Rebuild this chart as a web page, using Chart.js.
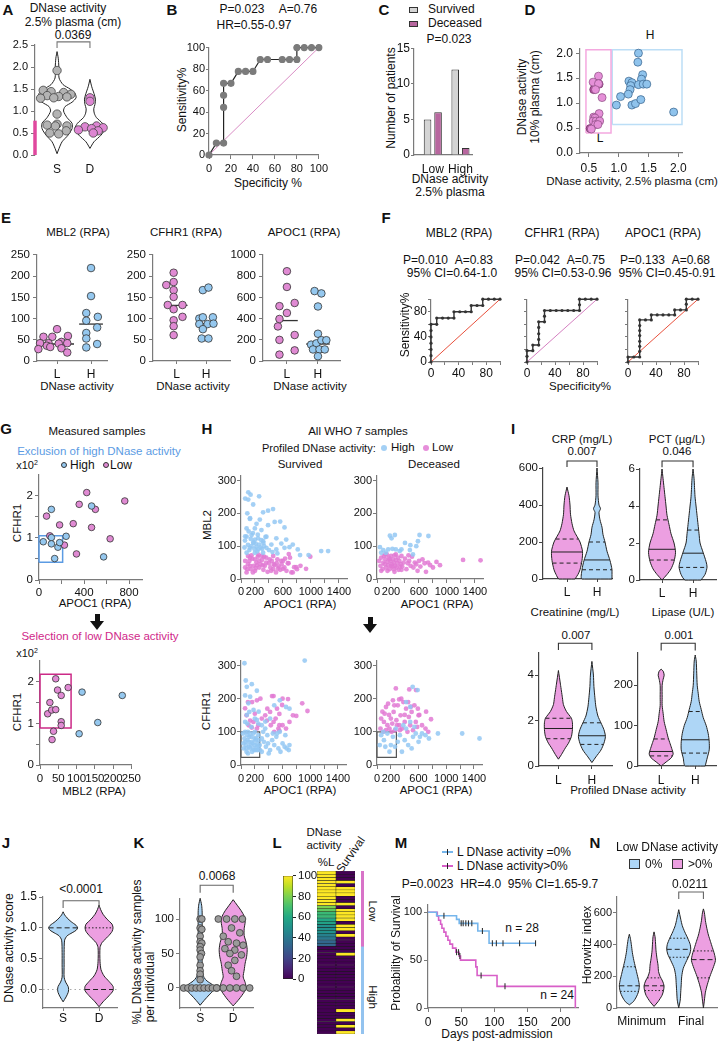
<!DOCTYPE html>
<html><head><meta charset="utf-8">
<script src="https://cdn.jsdelivr.net/npm/chart.js@4.4.1/dist/chart.umd.min.js"></script>
<style>
html,body{margin:0;padding:0;background:#fff}
body{position:relative;width:718px;height:1041px;overflow:hidden;font-family:"Liberation Sans",Arial,Helvetica,sans-serif;color:#111}
canvas{position:absolute}
.t{position:absolute;white-space:nowrap;line-height:1}
.bx{position:absolute;box-sizing:border-box}
</style></head><body>
<script>
// ================= DATA =================
// A: DNase activity 2.5% plasma (cm)
const aGroups = ['S','D'];
const aS = [1.92,1.47,1.44,1.42,1.38,1.35,1.33,1.32,1.30,1.29,0.93,0.70,0.68,0.66,0.66,0.55,0.50,0.48];
const aSoff = [0,-0.42,-0.18,0.2,0.42,-0.3,0.05,0.3,-0.1,-0.5,0,0,-0.3,0.3,-0.05,0.28,-0.22,0.05];
const aD = [1.30,1.22,0.66,0.64,0.62,0.60,0.57,0.55,0.50];
const aDoff = [0,0,0.2,-0.15,0.4,0.05,-0.35,0.25,0.1];
const aThreshold = 0.78;
const aSviolin = [[0.03,0],[0.15,2],[0.3,5],[0.45,11],[0.6,15],[0.72,15],[0.85,10],[1.0,6.5],[1.1,8],[1.2,15],[1.3,19],[1.4,18],[1.5,13],[1.6,6],[1.75,2],[2.0,1.8],[2.2,1.2],[2.35,0]];
const aDviolin = [[0.15,0],[0.3,4],[0.45,11],[0.6,15],[0.72,12.5],[0.85,6.5],[0.95,4.3],[1.05,3.8],[1.15,5],[1.27,5.5],[1.4,4],[1.55,1.8],[1.72,0]];
// B: ROC
const bSpec = [0,6.7,13.3,13.3,13.3,13.3,20,26.7,33.3,40,46.7,53.3,66.7,73.3,80,80,86.7,93.3,100];
const bSens = [0,11.1,11.1,44.4,55.6,66.7,66.7,77.8,77.8,77.8,88.9,88.9,88.9,88.9,88.9,100,100,100,100];
// C: number of patients
const cGroups = ['Low','High'];
const cSurvived = [5,12];
const cDeceased = [6,1];
// D: 10% vs 2.5% plasma
const dLow = [[0.66,1.54],[0.57,1.42],[0.66,1.39],[0.61,1.27],[0.72,1.11],[0.67,0.79],[0.58,0.72],[0.60,0.70],[0.57,0.64],[0.62,0.64],[0.68,0.64],[0.61,0.57],[0.65,0.57],[0.54,0.48]];
const dLowDark = [[0.67,1.38],[0.58,1.27],[0.52,0.49]];
const dHigh = [[1.33,2.0],[1.32,1.82],[1.40,1.57],[1.17,1.44],[1.22,1.41],[1.38,1.48],[1.20,1.35],[1.33,1.37],[1.41,1.38],[1.47,1.38],[1.19,1.27],[1.16,1.18],[1.03,1.13],[0.96,0.96],[1.22,0.96],[1.28,0.99],[1.37,1.07],[1.92,0.82]];
// E: proteins by DNase group
const eGroups = ['L','H'];
const eMblL = [75,57,57,59,45,42,42,41,42,36,30,28,33,20];
const eMblLoff = [0,-0.4,-0.14,0.32,0.13,-0.5,-0.25,0.05,0.3,-0.3,0.13,-0.55,-0.2,0.3];
const eMblH = [219,153,113,104,95,66,79,53,40,32];
const eMblHoff = [0,0,-0.14,0.2,-0.14,-0.14,0.18,-0.14,0.18,-0.14];
const eMblMed = [40,87];
const eCfhL = [208,179,186,167,151,132,132,122,104,96,82,61];
const eCfhLoff = [-0.1,-0.35,-0.1,-0.1,-0.1,-0.3,0.2,-0.1,0.2,-0.1,-0.1,-0.1];
const eCfhH = [167,173,100,103,103,87,87,88,75,53,53];
const eCfhHoff = [-0.11,0.08,-0.23,-0.11,0.23,-0.23,0.05,0.25,-0.11,-0.15,0.08];
const eCfhMed = [131,88];
const eApoL = [846,698,517,453,547,396,326,245,199,100,60];
const eApoLoff = [0,0,-0.24,0,0.25,-0.24,-0.29,0.25,-0.24,0.25,-0.24];
const eApoH = [659,637,514,257,154,166,196,196,109,109,109,45];
const eApoHoff = [-0.11,0.11,0,0,-0.22,-0.05,0.11,0.27,-0.16,0.05,0.22,0];
const eApoMed = [381,160];
// F: ROC curves
const f1Spec = [0,0,0,0,0,0,0,8.3,8.3,16.7,25,33.3,33.3,41.7,50,58.3,58.3,66.7,75,75,83.3,91.7,100];
const f1Sens = [0,10,20,30,40,50,60,60,70,70,70,70,80,80,80,80,90,90,90,100,100,100,100];
const f2Spec = [0,0,0,8.3,8.3,16.7,16.7,16.7,16.7,16.7,25,25,25,33.3,41.7,50,58.3,66.7,75,75,75,83.3,91.7,100];
const f2Sens = [0,9,18,18,27,27,36,45,55,64,64,73,82,82,82,82,82,82,82,91,100,100,100,100];
const f3Spec = [0,0,8.3,16.7,16.7,16.7,16.7,16.7,16.7,16.7,16.7,25,33.3,33.3,41.7,50,58.3,66.7,66.7,75,83.3,83.3,83.3,91.7,100];
const f3Sens = [0,8,8,8,17,25,33,42,50,58,67,67,67,75,75,75,75,75,83,83,83,92,100,100,100];
// G: measured samples
const gApocHigh = [[110,1.68],[467,1.76],[38,0.91],[110,1.01],[110,0.86],[168,0.78],[183,0.89],[241,1.04],[139,0.51],[574,0.55]];
const gApocLow = [[424,2.08],[357,1.80],[762,1.88],[67,1.52],[183,1.31],[304,1.34],[96,1.05],[226,0.83],[333,0.62],[501,1.68],[467,1.25],[632,0.98]];
const gMblHigh = [[115,1.75],[225,1.67],[158,1.02],[107,0.75]];
const gMblLow = [[43,2.07],[48,1.80],[58,1.67],[77,1.86],[27,1.50],[21,1.23],[32,1.32],[43,1.33],[58,1.04],[58,0.95],[37,0.81],[33,0.61]];
// H: all WHO 7 samples
const hSurvMblHigh = [[104,264],[137,257],[259,252],[104,242],[174,227],[316,203],[387,208],[458,213],[127,183],[269,181],[222,168],[387,164],[481,174],[80,154],[198,154],[292,149],[151,134],[80,129],[245,124],[363,129],[505,124],[646,120],[57,117],[174,110],[316,115],[434,105],[576,108],[740,105],[127,95],[245,90],[363,95],[505,90],[622,95],[80,80],[198,80],[316,80],[811,90],[1146,85],[1245,85],[966,73],[844,73],[693,97],[560,175],[622,157],[150,100],[180,112],[220,98],[260,105],[300,92],[120,88],[200,120],[240,135],[170,140],[290,118],[110,145],[330,100],[400,88],[450,82],[520,78],[350,128],[60,130],[90,200],[130,185],[60,245],[210,108],[280,96],[140,122],[190,92],[230,84],[100,104],[50,96],[320,110]];
const hSurvMblLow = [[60,35],[80,20],[100,45],[120,55],[140,30],[160,62],[180,40],[200,25],[220,50],[240,68],[260,35],[280,45],[300,58],[320,28],[340,40],[360,65],[380,22],[400,48],[420,35],[440,55],[460,30],[480,42],[500,20],[520,60],[540,38],[560,28],[580,45],[600,55],[620,35],[650,25],[680,48],[720,20],[760,36],[800,30],[850,40],[930,31],[990,68],[575,55],[683,76],[669,48],[598,31],[740,20],[787,36],[100,70],[150,72],[200,60],[250,74],[300,70],[60,55],[90,30],[130,40],[170,20],[210,33],[260,55],[310,42],[360,50],[410,60],[460,70],[510,48],[130,65],[230,42],[330,68],[430,25],[530,32],[630,62],[700,65],[470,45]];
const hDecMblHigh = [[42,97],[127,80],[184,132],[255,134],[208,124],[269,90],[349,90],[561,100],[585,115],[608,134],[735,131],[477,103],[160,90],[325,85],[514,75],[90,88],[220,92],[400,110],[470,88],[60,80]];
const hDecMblLow = [[30,55],[50,40],[60,65],[80,30],[90,50],[100,70],[110,45],[120,60],[130,35],[140,75],[150,52],[160,42],[170,65],[180,30],[190,55],[200,70],[210,45],[220,38],[230,60],[240,50],[250,72],[260,40],[270,58],[280,35],[290,48],[300,65],[310,28],[320,55],[340,45],[350,70],[360,38],[380,50],[400,62],[420,30],[440,48],[460,55],[480,40],[500,68],[520,35],[540,50],[560,45],[580,25],[600,55],[620,38],[650,60],[680,48],[700,22],[730,50],[760,42],[800,35],[850,52],[900,42],[1230,58],[1480,57],[150,25],[250,22],[350,28],[450,72],[120,75],[200,40],[270,75],[330,38],[60,25],[180,60],[240,30]];
const hSurvCfhHigh = [[50,307],[69,255],[156,244],[84,236],[229,224],[132,206],[60,210],[107,186],[181,166],[255,161],[84,151],[229,136],[351,131],[520,95],[920,315],[30,95],[50,80],[70,60],[90,90],[110,70],[130,50],[150,85],[170,65],[190,45],[210,75],[230,55],[250,90],[270,60],[40,50],[60,70],[80,40],[100,100],[120,85],[140,60],[160,40],[180,95],[200,60],[220,80],[240,45],[260,75],[35,65],[75,50],[115,55],[155,70],[195,80],[235,65],[275,45],[95,75],[135,95],[175,50],[215,45],[255,55],[60,100],[100,35],[200,100],[300,80],[330,70],[360,55],[390,65],[420,45],[450,75],[480,60],[510,85],[540,50],[570,40],[600,65],[630,55],[660,50],[690,45],[320,100],[380,90],[460,95],[560,100],[640,90],[700,60],[300,120],[350,110],[420,140],[480,180],[560,195],[650,175],[700,170],[150,115],[250,125],[90,125],[200,140],[120,160],[60,130],[300,40],[400,35]];
const hSurvCfhLow = [[448,208],[470,208],[679,199],[594,181],[554,154],[798,148],[884,186],[960,163],[59,171],[80,150],[132,134],[160,190],[375,134],[554,120],[554,103],[470,130],[156,113],[230,195],[250,120],[300,140],[350,150],[420,160],[500,140],[520,170],[600,120],[650,110],[700,130],[750,150],[200,155],[100,190],[280,200],[600,200],[540,110],[430,120],[380,170],[480,100],[230,110],[110,120],[180,130]];
const hDecCfhHigh = [[515,236],[587,226],[420,190],[480,175],[650,95],[700,90],[880,95],[1230,95],[1480,80],[60,90],[100,75],[150,95],[200,60],[230,85],[260,55],[300,70],[330,90],[360,40],[400,75],[450,60],[500,50],[520,85],[560,95],[600,70],[750,80],[420,110],[480,130],[380,120],[270,110],[40,60],[120,55],[180,40],[90,100],[620,85],[540,115]];
const hDecCfhLow = [[272,231],[466,228],[563,226],[320,198],[490,176],[78,161],[174,151],[400,151],[611,151],[709,161],[780,138],[60,140],[100,130],[130,175],[150,120],[180,110],[200,140],[220,125],[240,160],[260,105],[280,135],[300,180],[320,120],[340,150],[360,110],[380,190],[400,130],[420,170],[440,100],[460,145],[480,120],[500,160],[520,105],[540,180],[560,130],[580,115],[600,150],[650,120],[700,110],[740,100],[50,110],[90,100],[110,155],[160,185],[230,195],[290,120],[350,200],[450,190],[590,170],[130,105],[210,100],[330,105],[250,180]];
// I: clinical parameters (violin outlines: [value, half-width px]; quartiles [q1, median, q3])
const iGroups = ['L','H'];
const iCrpL = [[0,8],[25,11],[50,13],[100,15],[150,15.5],[200,13],[230,10],[260,7],[300,5],[350,3.5],[400,3],[450,2],[497,0]];
const iCrpH = [[0,15],[50,15],[100,13],[150,10],[200,8],[240,6],[280,5],[320,3],[360,2],[380,3.5],[400,2],[450,1],[520,1],[600,0]];
const iCrpQ = [[86,146,216],[50,103,200]];
const iPctL = [[0,0],[0.3,5],[0.6,9],[1.0,12],[1.5,13.5],[2.0,12],[2.5,9],[3.0,7],[3.5,5],[4.0,4],[4.5,3],[5.0,2],[5.5,1],[6,0]];
const iPctH = [[0,8],[0.3,12],[0.7,14],[1.0,13],[1.5,10],[2.0,7],[2.5,6],[3.0,5],[3.5,4],[4.0,3],[4.5,2],[5.0,1.5],[5.5,1],[6,0]];
const iPctQ = [[1.08,1.66,3.25],[0.68,1.45,2.7]];
const iCreL = [[0.3,0],[0.5,3],[0.8,7],[1.0,10],[1.3,13],[1.6,14],[1.9,14],[2.1,13],[2.4,8],[2.7,5],[3.0,4],[3.3,3],[3.6,2],[4.2,0]];
const iCreH = [[0.15,0],[0.4,4],[0.7,9],[1.0,12],[1.3,13.5],[1.6,12],[1.9,9],[2.2,6],[2.6,4],[3.0,3],[3.5,2],[4.0,1.5],[4.6,0]];
const iCreQ = [[1.2,1.65,2.1],[0.95,1.33,1.9]];
const iLipL = [[0,0],[10,5],[20,10],[30,12],[40,11],[55,9],[70,7],[90,5],[110,3],[130,2],[150,1],[170,1],[200,1],[215,2],[225,3],[235,2],[240,0]];
const iLipH = [[0,10],[20,12],[40,14],[60,14],[80,13],[100,11],[120,8],[140,6],[160,4],[180,3],[200,2],[230,1.5],[260,1],[275,0]];
const iLipQ = [[25,36,67],[32,65,135]];
// J: DNase activity score
const jGroups = ['S','D'];
const jSviolin = [[-0.2,0],[-0.12,3],[-0.05,5],[0,5.5],[0.05,5],[0.12,2.5],[0.2,1],[0.4,1],[0.6,1],[0.8,1.5],[0.87,4],[0.92,9],[0.96,13],[1.0,14.5],[1.04,13],[1.1,8],[1.16,4],[1.21,1.5],[1.26,0]];
const jDviolin = [[-0.28,0],[-0.2,4],[-0.1,10],[-0.02,14],[0.05,14],[0.13,10],[0.22,5],[0.32,2],[0.45,1],[0.68,1],[0.76,3],[0.86,9],[0.94,13],[1.0,14],[1.06,13],[1.14,8],[1.22,4],[1.3,1.5],[1.37,0]];
// K: %L DNase activity samples per individual
const kS = [100,100,87,85,75,67,65,60,55,50,45,33,25,20,12,0,0,0,0,0,0,0,0,0];
const kSoff = [0,0.05,0,0.05,0,0,0.05,0,0,0.04,0,0,0,0,0,-0.5,-0.37,-0.25,-0.12,0,0.12,0.25,0.37,0.5];
const kD = [100,100,100,100,87,80,75,67,65,62,57,55,50,48,40,33,25,17,0,0,0,0,0,0];
const kDoff = [-0.45,-0.2,0.05,0.28,-0.05,0.2,-0.3,-0.15,0.1,0.3,-0.25,0.05,-0.1,0.25,0.05,-0.15,-0.05,0.1,-0.5,-0.3,-0.1,0.1,0.3,0.5];
const kSviolin = [[-25,0],[-18,4],[-10,9],[-4,13],[0,14],[5,12],[10,7],[15,4],[22,2.5],[35,2],[60,2],[90,2],[110,2],[120,1.5],[130,0]];
const kDviolin = [[-26,0],[-16,6],[-6,11],[0,13],[8,12],[16,10],[26,11],[36,12],[46,13.5],[56,14],[66,13],[76,11],[86,11],[96,12],[104,11],[112,8],[120,4],[128,0]];
// L: heatmap (%L and survival: 1 = deceased)
const lPct = [100,100,100,100,100,100,100,100,100,100,100,80,75,67,67,60,57,50,50,50,43,40,33,33,0,0,0,0,0,0,0,0,0,0,0,0,0,0,0,0,0,0,0,0,0,0,0,0,0,0,0,0];
const lSurv = [0,0,0,1,0,1,1,1,0,0,1,0,1,1,1,1,0,1,1,0,1,0,0,0,0,0,1,0,0,0,0,0,0,0,0,0,0,0,0,0,0,0,0,0,1,0,0,1,0,1,0,1];
const lGroupN = [24,28];
const lColorTicks = [0,20,40,60,80,100];
// M: Kaplan-Meier
const mDays0 = [0,13,43,47,75,92,162];
const mSurv0 = [100,96.4,92.6,88.4,80.4,67.6,67.6];
const mCens0 = [24,50,53,57,61,66,82,97,103,113,138,162];
const mDays1 = [0,14,16,19,21,24,27,30,33,37,42,47,49,72,74,104,222,222];
const mSurv1 = [100,95.8,91.7,87.5,83.3,79.2,75,70.8,66.7,62.5,58.3,54.2,50,43,34,22.6,22.6,0];
const mCens1 = [43,46,48,80,116];
// N: Horowitz index
const nGroups = ['Minimum','Final'];
const nMinBlue = [[20,0],[40,4],[70,7],[100,9],[140,10],[180,9],[220,7.5],[260,6],[300,4.5],[350,3],[400,2],[440,1],[465,0]];
const nMinPink = [[10,0],[40,4],[80,8],[110,9.5],[140,10],[170,8.5],[200,6],[230,4.5],[270,4],[310,3],[360,2],[410,1.5],[450,1],[480,0]];
const nFinBlue = [[0,0],[50,1.5],[100,2],[150,2.5],[200,3],[250,4.5],[300,8],[340,11],[370,12],[400,11.5],[440,9],[480,6],[520,3.5],[560,2],[620,0]];
const nFinPink = [[0,0],[50,1],[100,2],[150,4],[200,6.5],[250,9.5],[300,12],[340,11],[380,9],[420,7],[460,5],[500,3.5],[550,2],[600,1],[625,0]];
const nQ = [[105,140,260],[110,140,190],[320,370,440],[190,305,360]];

// ================= HELPERS =================
const FONT = '"Liberation Sans", Arial, Helvetica, sans-serif';
Chart.defaults.font.family = FONT; Chart.defaults.font.size = 11; Chart.defaults.color = '#111';
const AXC = '#7a7a7a';
const PINK = '#e08ad3', BLUE = '#95c8ef';
const VPINK = '#ec9fe1', VBLUE = '#aed6f6';
const HPINK = 'rgba(226,122,212,0.85)', HBLUE = 'rgba(148,200,243,0.85)';

function T(s,x,y,o={}){const d=document.createElement('div');d.className='t';d.innerHTML=s;const st=d.style;
  st.left=x+'px';st.top=y+'px';st.fontSize=(o.fs||11)+'px';if(o.b)st.fontWeight='bold';if(o.c)st.color=o.c;
  const tx=o.a==='l'?'0':(o.a==='r'?'-100%':'-50%');
  st.transform='translate('+tx+',-50%)'+(o.r?' rotate('+o.r+'deg)':'');document.body.appendChild(d);return d;}
function box(x,y,w,h,st){const d=document.createElement('div');d.className='bx';
  Object.assign(d.style,{left:x+'px',top:y+'px',width:w+'px',height:h+'px'},st||{});document.body.appendChild(d);return d;}
function ax(min,max,o={}){
  const tl=(o.tl===undefined)?4:o.tl;
  const s={type:'linear',min:min,max:max,reverse:!!o.rev,display:o.display!==false,offset:false,
    grid:{display:true,drawOnChartArea:false,drawTicks:tl>0,tickLength:tl,color:o.c||AXC,lineWidth:1,offset:false},
    border:{display:o.border!==false,color:o.c||AXC,width:o.bw||1.2},
    ticks:{display:o.lab!==false,padding:(o.pad===undefined?2:o.pad),font:{size:o.fs||11},color:'#111',autoSkip:false,maxRotation:0,minRotation:0,
      callback:o.cb||(v=>String(v))}};
  if(o.ticks){const tk=o.ticks;s.afterBuildTicks=a=>{a.ticks=tk.map(v=>({value:v}));};}
  if(o.stacked)s.stacked=true;
  return s;}
function mk(area,xs,ys,datasets,o={}){
  const l=area[0],t=area[1],r=area[2],b=area[3];
  const yW=o.yW===undefined?36:o.yW, xH=o.xH===undefined?24:o.xH, pT=o.pT===undefined?6:o.pT, pR=o.pR===undefined?6:o.pR, pL=o.pL||0;
  const right=!!o.yRight;
  const cl=right?(l-pL):(l-yW);
  const W=Math.round(r-l+yW+pR+pL), H=Math.round(b-t+pT+xH);
  const c=document.createElement('canvas');c.width=W;c.height=H;
  c.style.left=cl+'px';c.style.top=(t-pT)+'px';c.style.width=W+'px';c.style.height=H+'px';
  document.body.appendChild(c);
  xs.afterFit=a=>{a.height=xH;};ys.afterFit=a=>{a.width=yW;};
  if(right)ys.position='right';
  return new Chart(c,{type:o.type||'scatter',data:{labels:o.labels||[],datasets:datasets},
    options:{responsive:false,maintainAspectRatio:false,animation:false,devicePixelRatio:1,events:[],
      layout:{padding:{left:right?pL:0,top:pT,right:pR,bottom:0},autoPadding:false},
      plugins:{legend:{display:false},tooltip:{enabled:false}},
      scales:{x:xs,y:ys}}});}
function jit(vals,offs,cx){return vals.map((v,i)=>({x:cx+offs[i],y:v}));}
function xy(a){return a.map(p=>({x:p[0],y:p[1]}));}
function dots(data,bg,bd,r,bw){return {data:data,pointRadius:r,pointBackgroundColor:bg,pointBorderColor:bd||bg,pointBorderWidth:(bw===undefined?0.8:bw),showLine:false,clip:false,order:1};}
function line(data,color,w,o){return Object.assign({data:data,showLine:true,borderColor:color,borderWidth:w||1,pointRadius:0,clip:false,fill:false,order:2},o||{});}
function rect(x0,x1,y0,y1,c,w){return line([{x:x0,y:y0},{x:x0,y:y1},{x:x1,y:y1},{x:x1,y:y0},{x:x0,y:y0}],c,w,{order:4});}
function bracket(x0,x1,lo,hi,c){return line([{x:x0,y:lo},{x:x0,y:hi},{x:x1,y:hi},{x:x1,y:lo}],c||'#666',1.1);}
function violin(shape,cx,pxu,fill,stroke,w){
  const R=shape.map(p=>({x:cx+p[1]/pxu,y:p[0]}));
  const L=shape.slice().reverse().map(p=>({x:cx-p[1]/pxu,y:p[0]}));
  const d=R.concat(L);d.push({x:d[0].x,y:d[0].y});
  return {data:d,showLine:true,fill:'shape',backgroundColor:fill,borderColor:stroke||'#222',borderWidth:w||1,pointRadius:0,tension:0.25,clip:false,order:5};}
function hwAt(shape,v){for(let i=1;i<shape.length;i++){if(v<=shape[i][0]){const a=shape[i-1],b=shape[i];return a[1]+(b[1]-a[1])*(v-a[0])/(b[0]-a[0]);}}return 0;}
function hline(shape,cx,pxu,v,dash,c,w){const h=hwAt(shape,v)/pxu;return line([{x:cx-h,y:v},{x:cx+h,y:v}],c||'#222',w||1,{borderDash:dash||[]});}
function stepAt(days,surv,t){let s=surv[0];for(let i=0;i<days.length;i++){if(days[i]<=t)s=surv[i];}return s;}
const VIR=['#440154','#482475','#414487','#355f8d','#2a788e','#21918c','#22a884','#44bf70','#7ad151','#bddf26','#fde725'];
function hex(c){return [parseInt(c.substr(1,2),16),parseInt(c.substr(3,2),16),parseInt(c.substr(5,2),16)];}
function vir(t){t=Math.max(0,Math.min(1,t));const n=VIR.length-1,p=t*n,i=Math.min(n-1,Math.floor(p)),f=p-i;const a=hex(VIR[i]),b=hex(VIR[i+1]);
  return 'rgb('+a.map((v,k)=>Math.round(v+(b[k]-v)*f)).join(',')+')';}
function arrow(x,y){box(x-2.5,y,5,8,{background:'#111'});box(x-7,y+7,14,0,{borderLeft:'7px solid transparent',borderRight:'7px solid transparent',borderTop:'9px solid #111',height:'0',width:'0'});}
function cdot(x,y,c,r,bd){box(x-r,y-r,2*r,2*r,{background:c,borderRadius:'50%',border:bd?('0.8px solid '+bd):'none'});}

// ================= PANEL A =================
T('A',8,9,{fs:15,b:1});
T('DNase activity',68,8,{fs:12});T('2.5% plasma (cm)',73,22,{fs:12});T('0.0369',73,35,{fs:12});
(function(){const xmin=0.33,xmax=2.67,area=[35,45,112,155],pxu=(area[2]-area[0])/(xmax-xmin);
 mk(area,ax(xmin,xmax,{ticks:[1,2],cb:v=>aGroups[v-1],tl:0,pad:7,border:false,fs:12}),
  ax(0,2.5,{ticks:[0,0.5,1,1.5,2,2.5],cb:v=>v.toFixed(1),pad:3}),
  [violin(aSviolin,1,pxu,'#fff'),violin(aDviolin,2,pxu,'#fff'),
   line([{x:xmin,y:0},{x:xmin,y:aThreshold}],'#e0489e',3.5,{order:0}),
   bracket(1,2,2.43,2.57,'#777'),
   dots(jit(aS,aSoff,1),'#b3b3b3','#444',4.2),
   dots(jit(aD,aDoff,2),'#dd86d2','#444',4.2)],{yW:40,xH:22,pT:14,pR:6});})();

// ================= PANEL B =================
T('B',172,9,{fs:15,b:1});
T('P=0.023',242,9,{fs:12});T('A=0.76',298,9,{fs:12});T('HR=0.55-0.97',254,25,{fs:12});
T('Sensitivity%',182,100,{fs:12,r:-90});T('Specificity %',268,183,{fs:12});
mk([209,44,321,155],ax(0,100,{ticks:[0,20,40,60,80,100],pad:3,fs:11}),ax(0,100,{ticks:[0,20,40,60,80,100],tl:3,pad:1,fs:11}),
 [line([{x:0,y:0},{x:100,y:100}],'#d98cc4',1,{order:3}),
  {data:bSpec.map((x,i)=>({x:x,y:bSens[i]})),showLine:true,borderColor:'#222',borderWidth:1.2,pointRadius:3,pointBackgroundColor:'#7b7b7b',pointBorderColor:'#7b7b7b',clip:false,order:1}],
 {yW:36,xH:22,pT:4,pR:10});

// ================= PANEL C =================
T('C',384,9,{fs:15,b:1});
box(409,7,9,6,{background:'#d4d4d4',border:'1px solid #333'});T('Survived',428,9,{fs:12,a:'l'});
box(409,21,9,6,{background:'#b8679f',border:'1px solid #333'});T('Deceased',428,23,{fs:12,a:'l'});
T('P=0.023',449,39,{fs:12});T('Number of patients',391,98,{fs:12,r:-90});
T('DNase activity',450,179,{fs:12});T('2.5% plasma',450,192,{fs:12});
mk([414,44,475,155],ax(0.32,2.42,{ticks:[1,2],cb:v=>cGroups[v-1],tl:0,pad:7,fs:12}),ax(0,15,{ticks:[0,5,10,15],tl:3,pad:1,fs:12}),
 [{data:cSurvived.map((y,i)=>({x:i+1,y:y})),backgroundColor:'#d4d4d4',borderColor:'#333',borderWidth:1,categoryPercentage:0.76,barPercentage:0.72},
  {data:cDeceased.map((y,i)=>({x:i+1,y:y})),backgroundColor:'#b8679f',borderColor:'#333',borderWidth:1,categoryPercentage:0.76,barPercentage:0.72}],
 {type:'bar',yW:30,xH:22,pT:4,pR:6});

// ================= PANEL D =================
T('D',530,9,{fs:15,b:1});
T('DNase activity',522,97,{fs:12,r:-90});T('10% plasma (cm)',535,97,{fs:12,r:-90});
T('DNase activity, 2.5% plasma (cm)',632,182,{fs:11.5});T('H',650,35,{fs:12});T('L',600,138,{fs:12});
mk([580,42,685,153],ax(0.35,2.07,{ticks:[0.5,1,1.5,2],cb:v=>v.toFixed(1),pad:4,fs:12}),ax(0,2.1,{ticks:[0,0.5,1,1.5,2],cb:v=>v.toFixed(1),pad:3,fs:12}),
 [rect(0.45,0.87,0.40,2.07,'#f4a8df',1.5),rect(0.89,2.06,0.57,2.07,'#bcdef6',1.5),
  dots(xy(dLow),'#e590d8','#8a4a80',4,0.7),dots(xy(dLowDark),'#b5519f','#6a2a60',4,0.7),dots(xy(dHigh),'#8fc3ec','#35608a',4,0.7)],
 {yW:40,xH:26,pT:4,pR:6});

// ================= PANEL E =================
T('E',6,217,{fs:15,b:1});
T('MBL2 (RPA)',78,233,{fs:11.5});T('CFHR1 (RPA)',186,233,{fs:11.5});T('APOC1 (RPA)',304,233,{fs:11.5});
T('DNase activity',77,387,{fs:11.5});T('DNase activity',193,387,{fs:11.5});T('DNase activity',310,387,{fs:11.5});
function ePanel(area,xmin,xmax,ymax,yt,L,Lo,H,Ho,med,mw){
  mk(area,ax(xmin,xmax,{ticks:[1,2],cb:v=>eGroups[v-1],tl:3,pad:3,fs:12}),ax(0,ymax,{ticks:yt,pad:3,fs:11.5}),
   [line([{x:1-mw[0],y:med[0]},{x:1+mw[0],y:med[0]}],'#333',1.3),line([{x:2-mw[1],y:med[1]},{x:2+mw[1],y:med[1]}],'#333',1.3),
    dots(jit(L,Lo,1),PINK,'#333',3.8),dots(jit(H,Ho,2),BLUE,'#333',3.8)],{yW:37,xH:24,pT:6,pR:4});}
ePanel([37,251,107,361],0.41,2.47,250,[0,50,100,150,200,250],eMblL,eMblLoff,eMblH,eMblHoff,eMblMed,[0.5,0.35]);
ePanel([153,251,230,361],0.2,2.81,250,[0,50,100,150,200,250],eCfhL,eCfhLoff,eCfhH,eCfhHoff,eCfhMed,[0.37,0.34]);
ePanel([263,251,340,361],0.23,2.71,1000,[0,200,400,600,800,1000],eApoL,eApoLoff,eApoH,eApoHoff,eApoMed,[0.35,0.38]);

// ================= PANEL F =================
T('F',386,217,{fs:15,b:1});
T('MBL2 (RPA)',459,233,{fs:12});T('CFHR1 (RPA)',562,233,{fs:12});T('APOC1 (RPA)',663,233,{fs:12});
T('P=0.010&nbsp;&nbsp;A=0.83',448,260,{fs:12});T('95% CI=0.64-1.0',452,273,{fs:12});
T('P=0.042&nbsp;&nbsp;A=0.75',560,260,{fs:12});T('95% CI=0.53-0.96',563,273,{fs:12});
T('P=0.133&nbsp;&nbsp;A=0.68',665,260,{fs:12});T('95% CI=0.45-0.91',667,273,{fs:12});
T('Sensitivity%',405,325,{fs:12,r:-90});T('Specificity%',580,387,{fs:11.5});
function fPanel(area,spec,sens,diag,showY){
  mk(area,ax(0,100,{ticks:[0,20,40,60,80,100],cb:v=>(v%40===0?String(v):''),tl:3,pad:1,fs:12}),
   ax(0,100,{ticks:[0,20,40,60,80,100],cb:v=>(showY&&v%40===0?String(v):''),tl:3,pad:1,fs:12}),
   [line([{x:0,y:0},{x:100,y:100}],diag,1,{order:3}),
    {data:spec.map((x,i)=>({x:x,y:sens[i]})),showLine:true,borderColor:'#333',borderWidth:1.4,pointRadius:1.6,pointBackgroundColor:'#333',pointBorderWidth:0,clip:false,order:1}],
   {yW:showY?30:6,xH:22,pT:4,pR:6});}
fPanel([431,295,500,362],f1Spec,f1Sens,'#e8503c',true);
fPanel([527,295,597,362],f2Spec,f2Sens,'#d47fc0',false);
fPanel([628,295,698,362],f3Spec,f3Sens,'#e8503c',false);

// ================= PANEL G =================
T('G',6,428,{fs:15,b:1});
T('Measured samples',97,432,{fs:11.5});T('Exclusion of high DNase activity',99,452,{fs:11.5,c:'#5b9be3'});
T('x10<sup style="font-size:7px">2</sup>',27,465,{fs:11});
cdot(64,465,BLUE,3,'#333');T('High',70,465,{fs:12,a:'l'});cdot(106,465,PINK,3,'#333');T('Low',110,465,{fs:12,a:'l'});
T('CFHR1',18,523,{fs:11.5,r:-90});T('APOC1 (RPA)',95,604,{fs:11.5});
arrow(97,614);
T('Selection of low DNase activity',100,637,{fs:11.5,c:'#d0288a'});
T('x10<sup style="font-size:7px">2</sup>',27,653,{fs:11});
T('CFHR1',18,712,{fs:11.5,r:-90});T('MBL2 (RPA)',94,792,{fs:11.5});
mk([39,470,142,580],ax(0,915,{ticks:[0,200,400,600,800],cb:v=>(v%400===0?String(v):''),pad:2,fs:11.5}),
 ax(0,2.5,{ticks:[0,0.5,1,1.5,2],cb:v=>(Number.isInteger(v)?String(v):''),pad:2,fs:11.5}),
 [rect(0,210,0.42,1.05,'#5b9be3',1.5),dots(xy(gApocHigh),BLUE,'#333',3.3),dots(xy(gApocLow),PINK,'#333',3.3)],{yW:30,xH:28,pT:4,pR:4});
mk([40,656,140,765],ax(0,250,{ticks:[0,50,100,150,200,250],pad:3,fs:11.5}),
 ax(0,2.5,{ticks:[0,0.5,1,1.5,2],cb:v=>(Number.isInteger(v)?String(v):''),pad:2,fs:11.5}),
 [rect(0,85,0.89,2.18,'#cc2a87',1.5),dots(xy(gMblHigh),BLUE,'#333',3.3),dots(xy(gMblLow),PINK,'#333',3.3)],{yW:30,xH:28,pT:4,pR:4});

// ================= PANEL H =================
T('H',207,428,{fs:15,b:1});
T('All WHO 7 samples',358,432,{fs:11.5});
T('Profiled DNase activity:',262,448,{fs:11,a:'l'});cdot(384,448,HBLUE,3);T('High',391,448,{fs:11.5,a:'l'});cdot(426,448,HPINK,3);T('Low',432,448,{fs:11.5,a:'l'});
T('Survived',300,465,{fs:11.5});T('Deceased',434,465,{fs:11.5});
T('MBL2',208,525,{fs:11.5,r:-90});T('CFHR1',207,711,{fs:11.5,r:-90});
T('APOC1 (RPA)',300,605,{fs:11.5});T('APOC1 (RPA)',437,605,{fs:11.5});T('APOC1 (RPA)',300,791,{fs:11.5});T('APOC1 (RPA)',436,791,{fs:11.5});
arrow(370,617);
function hPanel(area,hi,lo,box,pad){
  const ds=[dots(xy(hi),HBLUE,HBLUE,2.4,0),dots(xy(lo),HPINK,HPINK,2.4,0)];
  if(box)ds.push(rect(0,box,23,100,'#555',1.2));
  mk(area,ax(0,1520,{ticks:[0,200,400,600,800,1000,1200,1400],cb:v=>([0,200,600,1000,1400].indexOf(v)>=0?String(v):''),pad:pad,fs:11}),
   ax(0,315,{ticks:[0,100,200,300],pad:1,fs:11}),ds,{yW:32,xH:26,pT:4,pR:4});}
hPanel([241,472,350,579],hSurvMblHigh,hSurvMblLow,0,2.5);
hPanel([377,472,486,579],hDecMblHigh,hDecMblLow,0,2.5);
hPanel([241,657,350,765],hSurvCfhHigh,hSurvCfhLow,270,3.5);
hPanel([377,657,486,765],hDecCfhHigh,hDecCfhLow,280,3.5);

// ================= PANEL I =================
T('I',513,428,{fs:15,b:1});
T('CRP (mg/L)',582,440,{fs:11.5});T('0.007',582,452,{fs:11.5});
T('PCT (µg/L)',677,440,{fs:11.5});T('0.046',677,452,{fs:11.5});
T('Creatinine (mg/L)',575,613,{fs:11.5});T('0.007',576,636,{fs:11.5});
T('Lipase (U/L)',683,613,{fs:11.5});T('0.001',679,636,{fs:11.5});
T('Profiled DNase activity',628,791,{fs:11.5});
function iPanel(area,xmin,xmax,ymax,yt,Ls,Hs,Q,br,pad){
  const pxu=(area[2]-area[0])/(xmax-xmin);
  mk(area,ax(xmin,xmax,{ticks:[1,2],cb:v=>iGroups[v-1],tl:3,pad:pad,fs:12,c:'#444'}),ax(0,ymax,{ticks:yt,pad:1,fs:11.5,c:'#444'}),
   [violin(Ls,1,pxu,VPINK),violin(Hs,2,pxu,VBLUE),
    hline(Ls,1,pxu,Q[0][0],[4,3]),hline(Ls,1,pxu,Q[0][1]),hline(Ls,1,pxu,Q[0][2],[4,3]),
    hline(Hs,2,pxu,Q[1][0],[4,3]),hline(Hs,2,pxu,Q[1][1]),hline(Hs,2,pxu,Q[1][2],[4,3]),
    bracket(1,2,br[0],br[1],'#333')],{yW:30,xH:24,pT:22,pR:4});}
iPanel([543,468,612,579],0.2,2.5,600,[0,200,400,600],iCrpL,iCrpH,iCrpQ,[605,638],3.5);
iPanel([640,469,716,580],0.29,2.74,6,[0,2,4,6],iPctL,iPctH,iPctQ,[6.1,6.43],3.5);
iPanel([539,653,612,766],0.42,2.6,4.97,[0,2,4],iCreL,iCreH,iCreQ,[5.1,5.4],4);
iPanel([638,653,716,766],0.32,2.61,280,[0,100,200],iLipL,iLipH,iLipQ,[286,304],4);

// ================= PANEL J =================
T('J',6,842,{fs:15,b:1});
T('&lt;0.0001',81,889,{fs:12});T('DNase activity score',9,948,{fs:12,r:-90});
(function(){const xmin=0.44,xmax=2.5,area=[43,897,117,1008],pxu=(area[2]-area[0])/(xmax-xmin);
 mk(area,ax(xmin,xmax,{ticks:[1,2],cb:v=>jGroups[v-1],tl:3,pad:0,fs:12}),ax(-0.3,1.5,{ticks:[0,0.5,1,1.5],cb:v=>v.toFixed(1),pad:2,fs:12}),
  [line([{x:xmin,y:0},{x:xmax,y:0}],'#aaa',1.2,{borderDash:[1.5,3],order:6}),
   violin(jSviolin,1,pxu,VBLUE),violin(jDviolin,2,pxu,VPINK),
   hline(jSviolin,1,pxu,1.0,[5,3]),hline(jDviolin,2,pxu,1.0,[1.5,2]),hline(jDviolin,2,pxu,0.0,[5,3]),
   bracket(1,2,1.32,1.44,'#666')],{yW:36,xH:24,pT:16,pR:4});})();

// ================= PANEL K =================
T('K',139,842,{fs:15,b:1});
T('0.0068',217,876,{fs:12});
T('%L DNase activity samples',137,952,{fs:12,r:-90});T('per individual',150,987,{fs:12,r:-90});
(function(){const xmin=0.39,xmax=2.6,area=[180,899,253,1008],pxu=(area[2]-area[0])/(xmax-xmin);
 mk(area,ax(xmin,xmax,{ticks:[1,2],cb:v=>jGroups[v-1],tl:3,pad:0,fs:12}),ax(-29,129,{ticks:[0,50,100],pad:2,fs:11.5}),
  [line([{x:xmin,y:0},{x:xmax,y:0}],'#aaa',1.2,{borderDash:[1.5,3],order:6}),
   violin(kSviolin,1,pxu,VBLUE),violin(kDviolin,2,pxu,VPINK),
   bracket(1,2,138,149,'#666'),
   dots(jit(kS,kSoff,1),'#9b9b9b','#3a3a3a',3.4),dots(jit(kD,kDoff,2),'#9b9b9b','#3a3a3a',3.4)],{yW:36,xH:24,pT:16,pR:4});})();

// ================= PANEL L =================
T('L',277,842,{fs:15,b:1});
T('DNase',324,833,{fs:11.5});T('activity',324,846,{fs:11.5});T('%L',326,863,{fs:11.5});
T('Survival',351,855,{fs:11.5,r:-55});
T('Low',372,911,{fs:11.5,r:90});T('High',372,997,{fs:11.5,r:90});
mk([283,869,293,988],{type:'category',display:false,grid:{display:false}},
 ax(0,100,{ticks:lColorTicks,pad:2,tl:3,fs:11.5,border:false,c:'#222'}),
 [{data:[[0,100]],backgroundColor:(c)=>{const ch=c.chart,ca=ch.chartArea;if(!ca)return '#888';const g=ch.ctx.createLinearGradient(0,ca.bottom,0,ca.top);VIR.forEach((col,i)=>g.addColorStop(i/(VIR.length-1),col));return g;},
   borderColor:'#222',borderWidth:0.8,borderSkipped:false,barPercentage:1,categoryPercentage:1}],
 {type:'bar',labels:[''],yRight:true,yW:24,xH:0,pT:2,pR:2,pL:0});
mk([317,871,355,1034],{type:'category',display:false,stacked:true,grid:{display:false}},
 {type:'linear',min:0,max:lPct.length,reverse:true,stacked:true,display:false},
 lPct.map((p,r)=>({data:[1,1],backgroundColor:[vir(p/100),vir(lSurv[r])],borderColor:'#1a1a1a',borderWidth:0.5,borderSkipped:false,barPercentage:1,categoryPercentage:1})),
 {type:'bar',labels:['%L','Survival'],yW:0,xH:0,pT:0,pR:0});
mk([361,871,364,1034],{type:'category',display:false,stacked:true,grid:{display:false}},
 {type:'linear',min:0,max:lGroupN[0]+lGroupN[1],reverse:true,stacked:true,display:false},
 [{data:[lGroupN[0]],backgroundColor:'#d873c8',barPercentage:1,categoryPercentage:1},{data:[lGroupN[1]],backgroundColor:'#93c3ef',barPercentage:1,categoryPercentage:1}],
 {type:'bar',labels:[''],yW:0,xH:0,pT:0,pR:0});

// ================= PANEL M =================
T('M',401,842,{fs:15,b:1});
box(442,851,11,1.6,{background:'#76b6ec'});box(447,849,1.2,6,{background:'#222'});T('L DNase activity =0%',457,852,{fs:12,a:'l'});
box(442,865,11,1.6,{background:'#d85fc8'});box(447,863,1.2,6,{background:'#222'});T('L DNase activity&gt;0%',457,866,{fs:12,a:'l'});
T('P=0.0023&nbsp;&nbsp;HR=4.0&nbsp;&nbsp;95% CI=1.65-9.7',500,884,{fs:12});
T('n = 28',522,928,{fs:12});T('n = 24',557,995,{fs:12});
T('Probability of Survival',396,953,{fs:12,r:-90});T('Days post-admission',497,1034,{fs:12});
mk([428,900,578,1008],ax(0,226,{ticks:[0,50,100,150,200],pad:3,fs:12}),ax(0,108,{ticks:[0,50,100],pad:2,fs:11}),
 [{data:mDays0.map((d,i)=>({x:d,y:mSurv0[i]})),showLine:true,stepped:true,borderColor:'#76b6ec',borderWidth:1.6,pointRadius:0,clip:false,order:2},
  {data:mDays1.map((d,i)=>({x:d,y:mSurv1[i]})),showLine:true,stepped:true,borderColor:'#d85fc8',borderWidth:1.6,pointRadius:0,clip:false,order:2},
  {data:mCens0.map(d=>({x:d,y:stepAt(mDays0,mSurv0,d)})),pointStyle:'line',rotation:90,pointRadius:3,pointBorderColor:'#333',pointBorderWidth:1.1,showLine:false,clip:false,order:1},
  {data:mCens1.map(d=>({x:d,y:stepAt(mDays1,mSurv1,d)})),pointStyle:'line',rotation:90,pointRadius:3,pointBorderColor:'#333',pointBorderWidth:1.1,showLine:false,clip:false,order:1}],
 {yW:34,xH:24,pT:4,pR:8});

// ================= PANEL N =================
T('N',595,842,{fs:15,b:1});
T('Low DNase activity',667,847,{fs:12});
box(629,859,11,10,{background:VBLUE,border:'1px solid #333'});T('0%',645,864,{fs:12,a:'l'});
box(672,859,11,10,{background:VPINK,border:'1px solid #333'});T('&gt;0%',688,864,{fs:12,a:'l'});
T('0.0211',690,884,{fs:12});T('Horowitz index',587,945,{fs:12,r:-90});
(function(){const xmin=0.5,xmax=4.59,area=[617,897,718,1008],pxu=(area[2]-area[0])/(xmax-xmin);
 const sh=[nMinBlue,nMinPink,nFinBlue,nFinPink],fills=[VBLUE,VPINK,VBLUE,VPINK];
 const ds=[];
 sh.forEach((s,i)=>{ds.push(violin(s,i+1,pxu,fills[i]));ds.push(hline(s,i+1,pxu,nQ[i][0],[1.5,2]));ds.push(hline(s,i+1,pxu,nQ[i][1],[5,3]));ds.push(hline(s,i+1,pxu,nQ[i][2],[1.5,2]));});
 ds.push(bracket(3,4,688,732,'#666'));
 mk(area,ax(xmin,xmax,{ticks:[1.5,3.5],cb:v=>nGroups[(v-1.5)/2],tl:0,pad:6,fs:12}),ax(0,700,{ticks:[0,200,400,600],pad:1,fs:11}),ds,{yW:32,xH:24,pT:16,pR:0});})();
</script>
</body></html>
